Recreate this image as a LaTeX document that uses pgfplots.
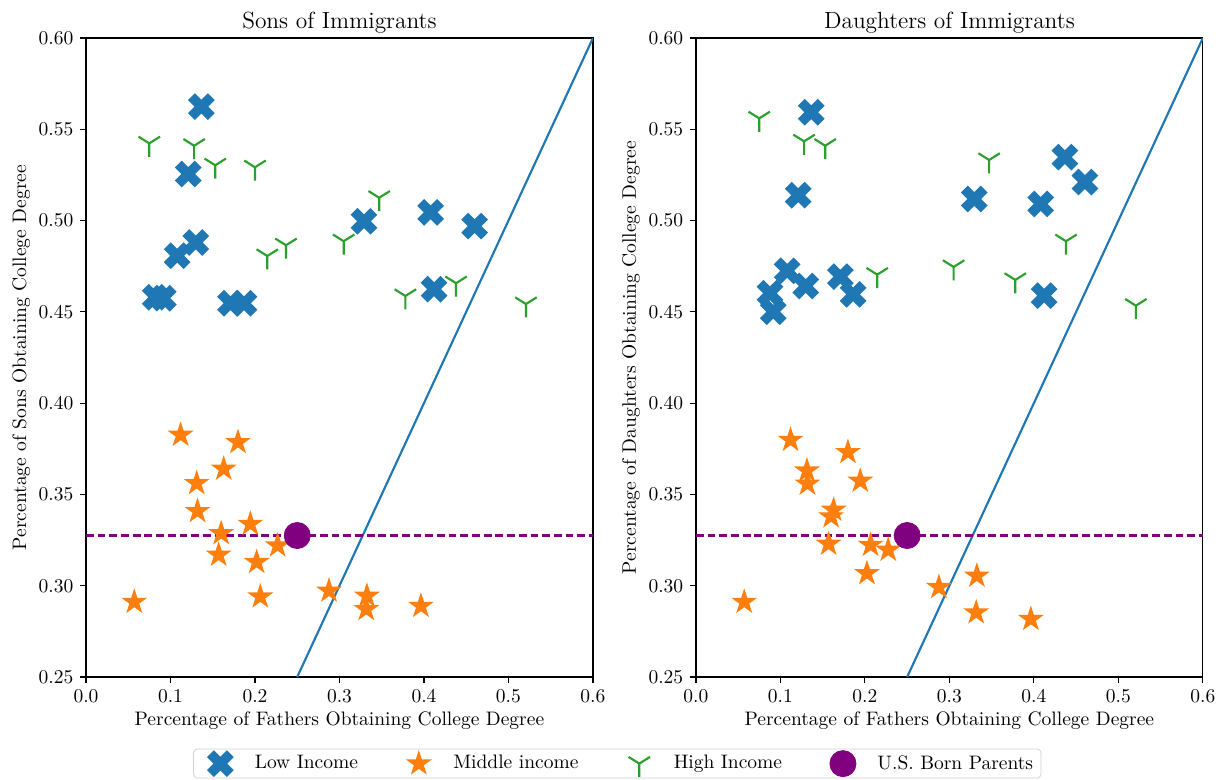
\documentclass[border=0pt]{standalone}
\usepackage{pgfplots}
\pgfplotsset{compat=1.18}

\definecolor{tabblue}{HTML}{1F77B4}
\definecolor{taborange}{HTML}{FF7F0E}
\definecolor{tabgreen}{HTML}{2CA02C}
\definecolor{mplpurple}{HTML}{800080}

% filled X, like matplotlib's 'X'
\pgfdeclareplotmark{Xfill}{%
  \pgfpathmoveto{\pgfqpoint{-3.323pt}{6.859pt}}%
  \pgfpathlineto{\pgfqpoint{0pt}{3.536pt}}%
  \pgfpathlineto{\pgfqpoint{3.323pt}{6.859pt}}%
  \pgfpathlineto{\pgfqpoint{6.859pt}{3.323pt}}%
  \pgfpathlineto{\pgfqpoint{3.536pt}{0pt}}%
  \pgfpathlineto{\pgfqpoint{6.859pt}{-3.323pt}}%
  \pgfpathlineto{\pgfqpoint{3.323pt}{-6.859pt}}%
  \pgfpathlineto{\pgfqpoint{0pt}{-3.536pt}}%
  \pgfpathlineto{\pgfqpoint{-3.323pt}{-6.859pt}}%
  \pgfpathlineto{\pgfqpoint{-6.859pt}{-3.323pt}}%
  \pgfpathlineto{\pgfqpoint{-3.536pt}{0pt}}%
  \pgfpathlineto{\pgfqpoint{-6.859pt}{3.323pt}}%
  \pgfpathclose
  \pgfusepathqfill
}
% filled five-point star
\pgfdeclareplotmark{starfill}{%
  \pgfpathmoveto{\pgfqpoint{0pt}{7pt}}%
  \pgfpathlineto{\pgfqpoint{-1.572pt}{2.163pt}}%
  \pgfpathlineto{\pgfqpoint{-6.657pt}{2.163pt}}%
  \pgfpathlineto{\pgfqpoint{-2.543pt}{-0.826pt}}%
  \pgfpathlineto{\pgfqpoint{-4.114pt}{-5.663pt}}%
  \pgfpathlineto{\pgfqpoint{0pt}{-2.674pt}}%
  \pgfpathlineto{\pgfqpoint{4.114pt}{-5.663pt}}%
  \pgfpathlineto{\pgfqpoint{2.543pt}{-0.826pt}}%
  \pgfpathlineto{\pgfqpoint{6.657pt}{2.163pt}}%
  \pgfpathlineto{\pgfqpoint{1.572pt}{2.163pt}}%
  \pgfpathclose
  \pgfusepathqfill
}
% tri_down
\pgfdeclareplotmark{tridown}{%
  \pgfpathmoveto{\pgfqpoint{0pt}{0pt}}%
  \pgfpathlineto{\pgfqpoint{0pt}{-6.9pt}}%
  \pgfpathmoveto{\pgfqpoint{0pt}{0pt}}%
  \pgfpathlineto{\pgfqpoint{5.5pt}{3.45pt}}%
  \pgfpathmoveto{\pgfqpoint{0pt}{0pt}}%
  \pgfpathlineto{\pgfqpoint{-5.5pt}{3.45pt}}%
  \pgfusepathqstroke
}

\pgfplotsset{
  panel/.style={
    scale only axis,
    width=260pt, height=327.7pt,
    xmin=0, xmax=0.6, ymin=0.25, ymax=0.6,
    xtick={0,0.1,...,0.6},
    ytick={0.25,0.30,...,0.60},
    xticklabel style={/pgf/number format/.cd, fixed, fixed zerofill, precision=1},
    yticklabel style={/pgf/number format/.cd, fixed, fixed zerofill, precision=2},
    tick align=outside, major tick length=3pt,
    tick pos=left,
    axis line style={line width=0.6pt},
    every tick/.style={black, line width=0.6pt},
    title style={font=\large, yshift=-7pt},
    xlabel={Percentage of Fathers Obtaining College Degree},
    xlabel style={yshift=2pt},
    ylabel style={yshift=-2.5pt},
  },
  low/.style={only marks, mark=Xfill, color=tabblue},
  mid/.style={only marks, mark=starfill, color=taborange},
  high/.style={only marks, mark=tridown, color=tabgreen, mark options={line width=1.1pt}},
  born/.style={only marks, mark=*, mark size=6.7pt, color=mplpurple},
  diag/.style={tabblue, line width=1.1pt, forget plot},
  hline/.style={mplpurple, line width=1.1pt, dash pattern=on 4pt off 2pt, forget plot},
}

\begin{document}
\begin{tikzpicture}
\path (-44.1pt,-52.8pt) rectangle (582.6pt,347.2pt);

\begin{axis}[panel, at={(0pt,0pt)}, anchor=south west,
    title={Sons of Immigrants},
    ylabel={Percentage of Sons Obtaining College Degree},
    legend columns=4,
    legend style={at={(1.048,-0.1354)}, anchor=center, draw=black!18,
      rounded corners=2pt, font=\normalsize, inner xsep=2pt, inner ysep=0.5pt,
      /tikz/every even column/.append style={column sep=17.5pt}},
    legend image code/.code={\path (0pt,0pt) (27pt,0pt);
      \draw[#1] plot coordinates {(11.5pt,0pt)};},
  ]
  \addplot[low] coordinates {
    (0.1365,0.5624) (0.121,0.5255) (0.329,0.4996) (0.408,0.5045)
    (0.460,0.497) (0.130,0.488) (0.108,0.4808) (0.082,0.458)
    (0.0915,0.4575) (0.171,0.4547) (0.187,0.4547) (0.412,0.4624)
  };
  \addlegendentry{Low Income}
  \addplot[mid] coordinates {
    (0.112,0.3826) (0.1799,0.3786) (0.163,0.364) (0.131,0.3561)
    (0.132,0.3408) (0.1945,0.3338) (0.160,0.3287) (0.157,0.3169)
    (0.2268,0.322) (0.202,0.3129) (0.2063,0.294) (0.0572,0.2911)
    (0.2876,0.2972) (0.3325,0.2944) (0.3317,0.2871) (0.3964,0.2889)
  };
  \addlegendentry{Middle income}
  \addplot[high] coordinates {
    (0.0749,0.5423) (0.128,0.541) (0.153,0.5303) (0.200,0.5292)
    (0.347,0.5125) (0.2367,0.4865) (0.2146,0.4806) (0.305,0.4887)
    (0.378,0.4587) (0.438,0.4657) (0.5207,0.4543)
  };
  \addlegendentry{High Income}
  \addplot[diag] coordinates {(0.25,0.25) (0.6,0.6)};
  \addplot[hline] coordinates {(0,0.3275) (0.6,0.3275)};
  \addplot[born] coordinates {(0.25,0.3275)};
  \addlegendentry{U.S. Born Parents}
\end{axis}

\begin{axis}[panel, at={(312.8pt,0pt)}, anchor=south west,
    title={Daughters of Immigrants},
    ylabel={Percentage of Daughters Obtaining College Degree},
  ]
  \addplot[low] coordinates {
    (0.1365,0.5593) (0.121,0.5139) (0.3294,0.5118) (0.4367,0.5348)
    (0.4604,0.5211) (0.408,0.5091) (0.108,0.4725) (0.130,0.4642)
    (0.0876,0.4602) (0.0915,0.4501) (0.171,0.4693) (0.186,0.4596)
    (0.412,0.4589)
  };
  \addplot[mid] coordinates {
    (0.112,0.3798) (0.1799,0.3731) (0.1314,0.363) (0.132,0.3558)
    (0.1945,0.3574) (0.163,0.3415) (0.160,0.3379) (0.157,0.3229)
    (0.2067,0.3223) (0.2276,0.3196) (0.2024,0.3068) (0.0572,0.2911)
    (0.2876,0.2992) (0.3325,0.3054) (0.3317,0.2853) (0.3964,0.2817)
  };
  \addplot[high] coordinates {
    (0.0749,0.556) (0.128,0.5434) (0.153,0.541) (0.347,0.5332)
    (0.438,0.4887) (0.2146,0.4704) (0.305,0.4746) (0.378,0.4675)
    (0.5207,0.4534)
  };
  \addplot[diag] coordinates {(0.25,0.25) (0.6,0.6)};
  \addplot[hline] coordinates {(0,0.3275) (0.6,0.3275)};
  \addplot[born] coordinates {(0.25,0.3275)};
\end{axis}
\end{tikzpicture}
\end{document}
